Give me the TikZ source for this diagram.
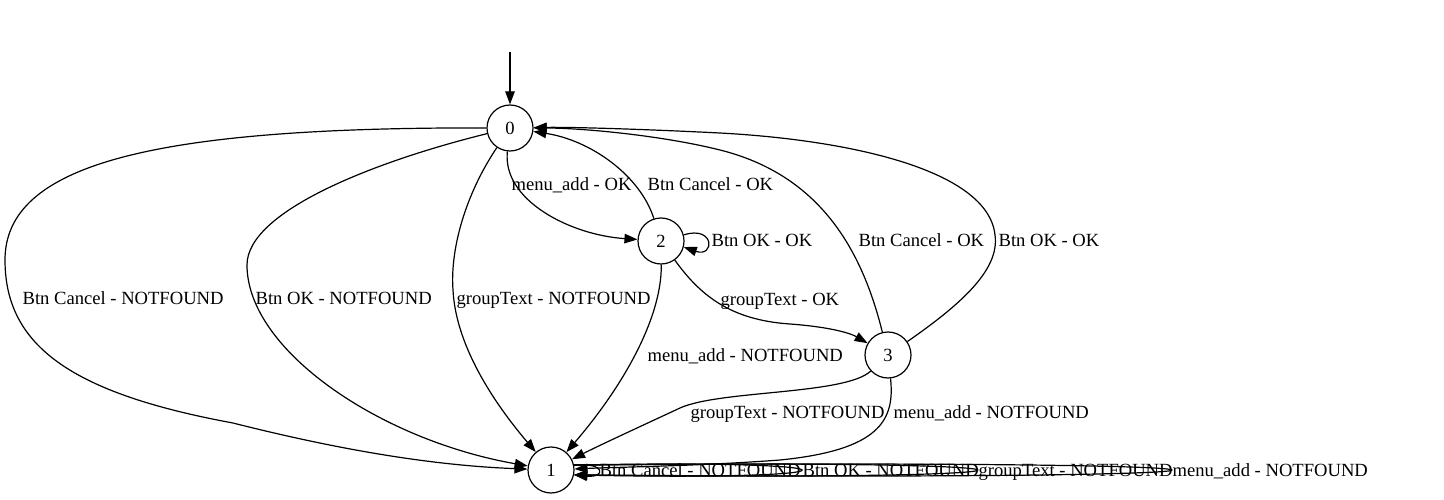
\documentclass[tikz,border=0pt]{standalone}
\usepackage{fontspec}
\setmainfont{Liberation Serif}
\usepackage{tikz}
\usetikzlibrary{arrows.meta}

\begin{document}
\begin{tikzpicture}[
            x=1pt, y=-1pt,
            state/.style={circle, draw, line width=1.2pt, minimum size=46pt, inner sep=0pt},
            lbl/.style={anchor=base west, inner sep=0pt},
            ->, >={Triangle[length=13pt, width=9.5pt]}, line width=1.2pt,
            font=\fontsize{18.6}{22}\selectfont
        ]
            \useasboundingbox (0,0) rectangle (1444,500);

            % States
            \node[state] (s0) at (510,128) {0};
            \node[state] (s2) at (661,241) {2};
            \node[state] (s3) at (888,355) {3};
            \node[state] (s1) at (551,470) {1};

            % Initial arrow
            \coordinate (init) at (510,52);
            \draw (init) -- (s0);

            % From 0 to 1
            \draw (s0) .. controls (150,127) and (5,165) .. (5,260)
                       .. controls (5,345) and (70,393) .. (233,423)
                       .. controls (320,445) and (420,465) .. (s1)
                  node[lbl] at (22,304) {Btn Cancel - NOTFOUND};
            \draw (s0) .. controls (380,160) and (247,210) .. (247,265)
                       .. controls (247,350) and (380,440) .. (s1)
                  node[lbl] at (255,304) {Btn OK - NOTFOUND};
            \draw (s0) .. controls (465,195) and (450,250) .. (453,290)
                       .. controls (456,350) and (500,410) .. (s1)
                  node[lbl] at (456,304) {groupText - NOTFOUND};

            % Between 0 and 2
            \draw (s0) .. controls (502,200) and (570,235) .. (s2)
                  node[lbl] at (511,191) {menu\_add - OK};
            \draw (s2) .. controls (640,175) and (590,140) .. (s0)
                  node[lbl] at (647,191) {Btn Cancel - OK};
            \draw (s2.15) .. controls (715,225) and (715,258) .. (s2.-15)
                  node[lbl] at (711,247) {Btn OK - OK};

            % From 2
            \draw (s2) .. controls (700,295) and (730,320) .. (790,324)
                       .. controls (830,327) and (850,333) .. (s3)
                  node[lbl] at (720,305) {groupText - OK};
            \draw (s2) .. controls (662,320) and (620,390) .. (s1)
                  node[lbl] at (647,361) {menu\_add - NOTFOUND};

            % From 3 back to 0
            \draw (s3) .. controls (862,250) and (820,175) .. (720,150)
                       .. controls (660,135) and (580,128) .. (s0)
                  node[lbl] at (858,247) {Btn Cancel - OK};
            \draw (s3) .. controls (960,305) and (1000,270) .. (995,235)
                       .. controls (988,170) and (850,140) .. (720,133)
                       .. controls (640,129) and (570,127) .. (s0)
                  node[lbl] at (998,247) {Btn OK - OK};

            % From 3 to 1
            \draw (s3) .. controls (845,395) and (720,390) .. (680,408)
                       .. controls (650,422) and (600,445) .. (s1)
                  node[lbl] at (690,418) {groupText - NOTFOUND};
            \draw (s3) .. controls (895,420) and (880,450) .. (780,460)
                       .. controls (700,466) and (620,467) .. (s1)
                  node[lbl] at (893,418) {menu\_add - NOTFOUND};

            % Loops on 1
            \draw (s1.12) .. controls (606,462) and (606,478) .. (s1.-12)
                  node[lbl] at (599,476) {Btn Cancel - NOTFOUND};
            \draw (s1.12) .. controls (876,459) and (876,481) .. (s1.-12)
                  node[lbl] at (802,476) {Btn OK - NOTFOUND};
            \draw (s1.12) .. controls (1110,459) and (1110,481) .. (s1.-12)
                  node[lbl] at (978,476) {groupText - NOTFOUND};
            \draw (s1.12) .. controls (1369,459) and (1369,481) .. (s1.-12)
                  node[lbl] at (1172,476) {menu\_add - NOTFOUND};
        \end{tikzpicture}
\end{document}
